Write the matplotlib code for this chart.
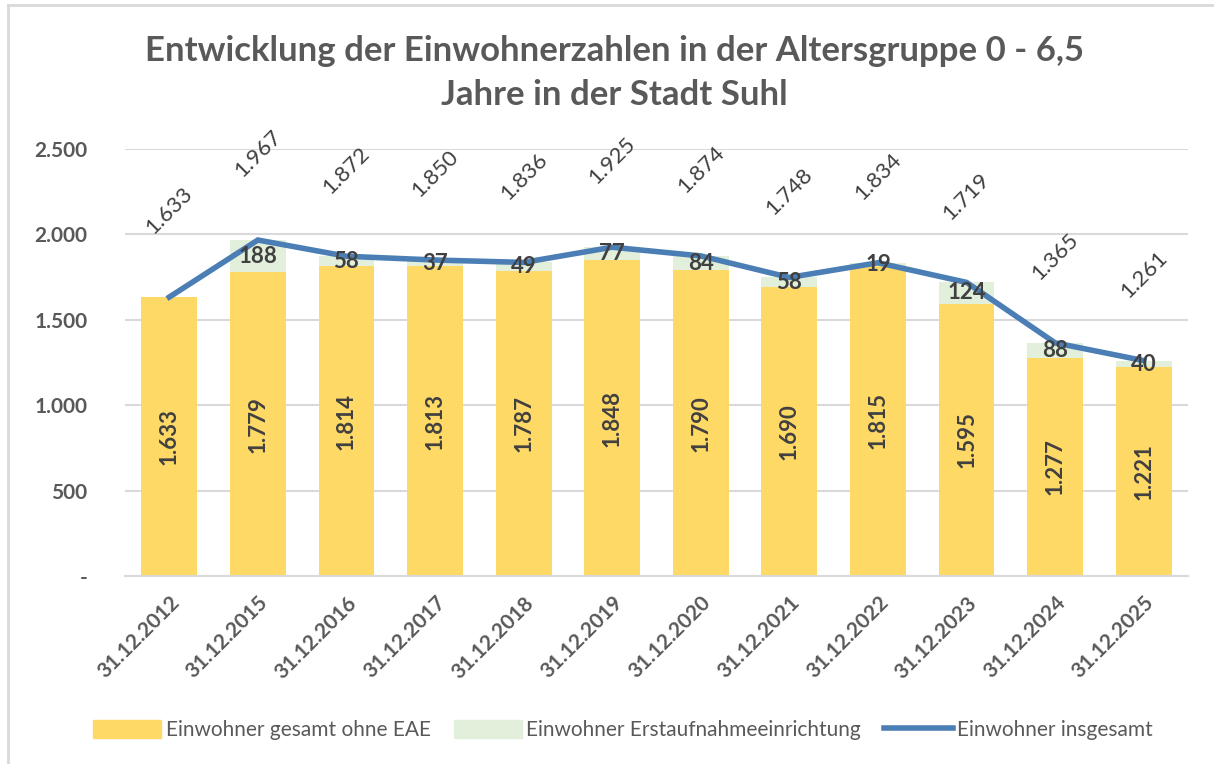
import numpy as np
import matplotlib.pyplot as plt
from matplotlib.lines import Line2D

# Daten
dates = ['31.12.2012', '31.12.2015', '31.12.2016', '31.12.2017', '31.12.2018', '31.12.2019',
         '31.12.2020', '31.12.2021', '31.12.2022', '31.12.2023', '31.12.2024', '31.12.2025']
ohne_eae = [1633, 1779, 1814, 1813, 1787, 1848, 1790, 1690, 1815, 1595, 1277, 1221]
eae = [0, 188, 58, 37, 49, 77, 84, 58, 19, 124, 88, 40]
gesamt = [1633, 1967, 1872, 1850, 1836, 1925, 1874, 1748, 1834, 1719, 1365, 1261]
yticks = [0, 500, 1000, 1500, 2000, 2500]
ytick_labels = ['-', '500', '1.000', '1.500', '2.000', '2.500']

def de(v):
    return f'{v:,}'.replace(',', '.')

plt.rcParams['font.family'] = ['Lato', 'DejaVu Sans']
grey = '#595959'
dark = '#404040'
yellow = '#FFD966'
green = '#E2EFDA'
blue = '#4A7EB5'

fig = plt.figure(figsize=(12.14, 7.64), dpi=100)
ax = fig.add_axes([125 / 1214, 1 - 576 / 764, 1063 / 1214, (576 - 149) / 764])

x = np.arange(len(dates))
w = 0.63
ax.bar(x, ohne_eae, w, color=yellow, zorder=2, label='Einwohner gesamt ohne EAE')
ax.bar(x, eae, w, bottom=ohne_eae, color=green, zorder=2, label='Einwohner Erstaufnahmeeinrichtung')
ax.plot(x, gesamt, color=blue, lw=4, zorder=3, solid_joinstyle='miter',
        label='Einwohner insgesamt')

# Beschriftungen
for i in range(len(x)):
    ax.text(x[i], ohne_eae[i] / 2, de(ohne_eae[i]), rotation=90, ha='center', va='center',
            fontsize=16, fontweight='bold', color=dark, zorder=4)
    if eae[i] > 0:
        ax.text(x[i], ohne_eae[i] + eae[i] / 2, de(eae[i]), ha='center', va='center',
                fontsize=16, fontweight='bold', color=dark, zorder=4)
    ax.annotate(de(gesamt[i]), (x[i], gesamt[i]), xytext=(0, 62), textcoords='offset points',
                rotation=45, ha='center', va='center', fontsize=16, color=dark,
                rotation_mode='anchor', zorder=4)

ax.set_xlim(-0.5, len(x) - 0.5)
ax.set_ylim(0, 2500)
ax.set_yticks(yticks)
ax.set_yticklabels(ytick_labels, fontsize=15, fontweight='bold', color=grey)
ax.set_xticks(x)
ax.set_xticklabels(dates, rotation=45, ha='right', rotation_mode='anchor', fontsize=15,
                   fontweight='bold', color=grey)
ax.tick_params(length=0, pad=12)
ax.tick_params(axis='y', pad=27)
ax.grid(axis='y', color='#D9D9D9', lw=1.5, zorder=0)
for s in ['top', 'right', 'left']:
    ax.spines[s].set_visible(False)
ax.spines['bottom'].set_color('#D9D9D9')
ax.spines['bottom'].set_linewidth(1.5)

fig.text(0.506, 1 - 73 / 764, 'Entwicklung der Einwohnerzahlen in der Altersgruppe 0 - 6,5\nJahre in der Stadt Suhl',
         ha='center', va='center', fontsize=25, fontweight='bold', color=grey, linespacing=1.45)

handles = [plt.Rectangle((0, 0), 1, 1, color=yellow),
           plt.Rectangle((0, 0), 1, 1, color=green),
           Line2D([0], [0], color=blue, lw=4)]
fig.legend(handles, ['Einwohner gesamt ohne EAE', 'Einwohner Erstaufnahmeeinrichtung', 'Einwohner insgesamt'],
           loc='center', bbox_to_anchor=(0.513, 1 - 730 / 764), ncol=3, frameon=False,
           fontsize=15, labelcolor=grey, handlelength=3.3, handleheight=1.0,
           handletextpad=0.2, columnspacing=1.1)

# Rahmen
fig.add_artist(Line2D([8 / 1214, 8 / 1214], [0, 1 - 5 / 764], color='#D9D9D9', lw=2))
fig.add_artist(Line2D([8 / 1214, 1], [1 - 5 / 764, 1 - 5 / 764], color='#D9D9D9', lw=2))

fig.savefig('out.png', dpi=100)
